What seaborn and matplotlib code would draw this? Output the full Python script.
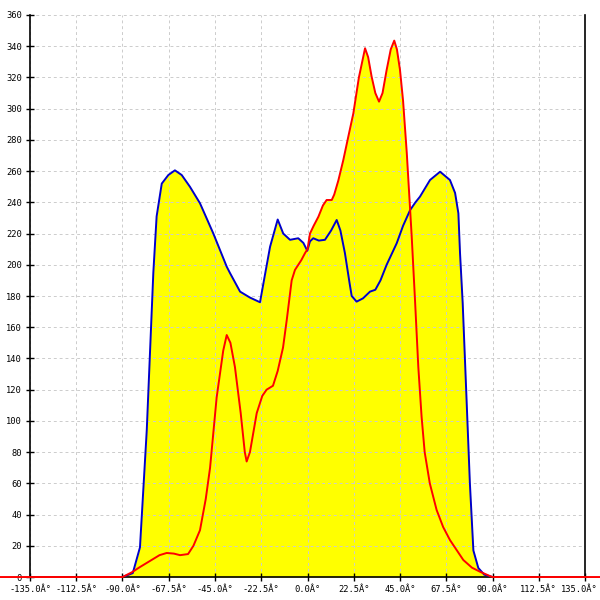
import matplotlib
matplotlib.use("Agg")
import matplotlib.pyplot as plt
import matplotlib.transforms as mtransforms
import pandas as pd
import seaborn as sns

# angle (deg) / value pairs
BLUE_X = [-90, -85, -81.5, -78.2, -75, -73.4, -70.9, -67.7, -64.5, -61.2, -57.2,
          -52.3, -45.8, -39.3, -37.7, -32.8, -28, -23.1, -20.5, -18.2, -14.5,
          -11.8, -8.5, -4.5, -2, -0.1, 1.2, 2.8, 5.5, 8.5, 11.5, 14.2, 16, 18.2,
          20.5, 21.5, 23.9, 27, 30.4, 33, 35.5, 38.5, 43.4, 46.5, 49.9, 52.5,
          54.7, 59.6, 64.5, 69.3, 71.8, 73.4, 74.2, 75.5, 77.4, 79, 80.7, 83.1,
          86, 90]
BLUE_Y = [0, 2.5, 19, 94, 195, 231, 252, 257.5, 260.5, 257.5, 250,
          239.4, 220, 198.8, 194.7, 182.8, 179, 176, 195, 211.6, 229,
          220, 216, 217, 214, 209, 215, 217, 215.5, 216, 222, 228.7, 222, 207.5,
          188, 180, 176.4, 178.5, 182.8, 184, 190, 200, 213.8, 225, 235, 240,
          243.6, 254.3, 259.6, 254.3, 246, 233, 207.5, 175.5, 113, 60, 17, 5.8,
          1.5, 0]

RED_X = [-180, -90, -85.5, -81.5, -77, -72, -68.5, -65, -62, -58.1, -55.5, -52.3,
         -49.5, -47.4, -44.2, -41, -39.3, -37.5, -35.3, -32.5, -30.5, -29.6, -28,
         -24.7, -22, -19.9, -16.8, -14.5, -11.9, -10.1, -7.7, -6.1, -3, -1.2, 0,
         1.2, 3, 5.3, 7.5, 9.3, 11.8, 13, 15, 17.4, 20, 22.3, 25, 28, 29.5, 31.2,
         33, 34.8, 36.5, 38.5, 40.5, 42.2, 43.5, 45, 46.5, 48.3, 50.7, 52.3, 53.9,
         55.5, 57, 59.5, 62.8, 66, 69.3, 75.8, 80, 83.9, 88.8, 90, 180]
RED_Y = [0, 0, 3, 6.4, 10, 14, 15.4, 15, 14, 14.7, 20, 30,
         50, 70, 115, 145, 155, 150, 134.5, 105, 80, 74, 80,
         105, 116, 120, 122.5, 132, 147, 164.6, 190, 196.7, 203, 207.5, 210,
         220, 225, 230.8, 238, 241.5, 241.5, 245, 254, 267, 283, 297, 320, 338.7, 333, 320.5,
         310, 304.5, 310, 324.8, 338, 343.6, 338, 324.8, 305, 271.6, 218, 177.4, 134.7,
         102.7, 80, 60, 43, 32, 23.7, 10.9, 6, 3.4, 0.6, 0, 0]

X_TICKS = [-135, -112.5, -90, -67.5, -45, -22.5, 0, 22.5, 45, 67.5, 90, 112.5, 135]
X_LABELS = [f"{t:.1f}Â°" for t in X_TICKS]
Y_TICKS = list(range(0, 361, 20))

blue = pd.DataFrame({"angle": BLUE_X, "value": BLUE_Y})
red = pd.DataFrame({"angle": RED_X, "value": RED_Y})

plt.rcParams["font.family"] = ["DejaVu Sans Mono"]

fig = plt.figure(figsize=(6, 6), dpi=100)
ax = fig.add_axes([0.05, 0.0383, 0.925, 0.9367])

ax.fill_between(blue["angle"], blue["value"], 0, color="#ffff00", lw=0, zorder=1)
ax.fill_between(red["angle"], red["value"], 0, color="#ffff00", lw=0, zorder=1)

sns.lineplot(data=blue, x="angle", y="value", color="#0000cc", lw=1.4,
             sort=False, ax=ax, zorder=3)
sns.lineplot(data=red, x="angle", y="value", color="#ff0000", lw=1.4,
             sort=False, ax=ax, zorder=4, clip_on=False)

ax.set_xlim(-135, 135)
ax.set_ylim(0, 360)
ax.set_xticks(X_TICKS, X_LABELS)
ax.set_yticks(Y_TICKS, [str(t) for t in Y_TICKS])
ax.set_xlabel("")
ax.set_ylabel("")

ax.set_axisbelow("line")
ax.grid(True, color="#cccccc", lw=0.7, ls=(0, (3, 3)), zorder=2)

ax.spines["top"].set_visible(False)
for s in ("left", "right", "bottom"):
    ax.spines[s].set_color("black")
    ax.spines[s].set_linewidth(1.2)

ax.tick_params(direction="inout", length=6, width=1, labelsize=6.3, colors="black")
ax.tick_params(axis="y", pad=3)
ax.tick_params(axis="x", pad=3)

# last label sits a little left so it stays inside the picture
last = ax.get_xticklabels()[-1]
last.set_transform(last.get_transform() +
                   mtransforms.ScaledTranslation(-6 / 100, 0, fig.dpi_scale_trans))

fig.savefig("out.png", dpi=100)
